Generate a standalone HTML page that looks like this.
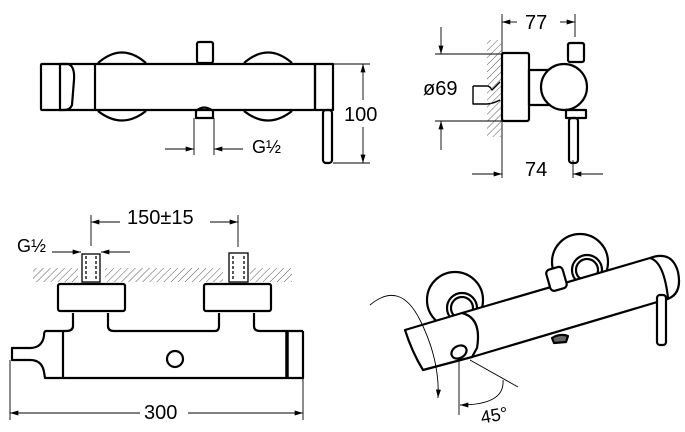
<!DOCTYPE html>
<html><head><style>body{margin:0;background:#fff}svg{display:block}text{font-family:"Liberation Sans","DejaVu Sans",sans-serif;fill:#000}</style></head><body>
<svg width="685" height="432" viewBox="0 0 685 432" xmlns="http://www.w3.org/2000/svg">
<defs>
<pattern id="h" width="5" height="5" patternUnits="userSpaceOnUse" patternTransform="rotate(45)"><line x1="0" y1="0" x2="0" y2="5" stroke="#555" stroke-width="1"/></pattern>
<marker id="a" viewBox="0 0 10 6" refX="10" refY="3" markerWidth="9" markerHeight="5" orient="auto-start-reverse" markerUnits="userSpaceOnUse"><path d="M0,0 L10,3 L0,6z" fill="#000"/></marker>
</defs>
<g fill="none" stroke="#000" stroke-width="2.2" stroke-linejoin="round">
<path d="M98,63 Q122,42 146,63 M244,63 Q268,42 292,63"/>
<path d="M98,111 Q122,130 146,111 M244,111 Q268,130 292,111"/>
<rect x="197" y="42" width="16" height="21" rx="2"/>
<path d="M196,118 L196,111 Q204,104 213,111 L213,118 Z"/>
<rect x="41" y="64" width="274" height="46" rx="1"/>
<path d="M60,64 L68,64 Q75,66 74,80 L72,105 Q70,110 64,110 L60,110 Z"/>
<line x1="95" y1="64" x2="95" y2="110"/>
<rect x="315" y="64" width="18" height="46"/>
<rect x="323" y="110" width="9" height="53" rx="3"/>
<rect x="529" y="70" width="28" height="35"/>
<circle cx="564" cy="87" r="23" fill="#fff"/>
<rect x="502" y="53" width="27" height="68" rx="2"/>
<rect x="568" y="43" width="16" height="19" rx="2"/>
<rect x="566" y="110" width="20" height="8"/>
<rect x="569" y="118" width="9" height="45" rx="3"/>
<path d="M473,86 L487,86 Q490,86 492,90 L500,82 M473,86 L473,104 L487,104 Q492,104 500,100" stroke-width="1.4"/>
<rect x="58" y="284" width="67" height="27" rx="2"/>
<rect x="204" y="284" width="67" height="27" rx="2"/>
<path d="M73,313 L73,326 Q73,331 66,331 L63,331 M108,313 L108,326 Q108,331 114,331 L215,331 Q219,331 219,326 L219,313 M254,313 L254,326 Q254,331 260,331 L303,331"/>
<path d="M63,331 L63,378 L303,378 L303,331"/>
<path d="M63,331 L46,331 Q44,331 44,336 Q42,348 30,348 L12,348 L12,360 L30,360 Q42,360 44,372 L45,378 L63,378"/>
<line x1="287" y1="331" x2="287" y2="378" stroke-width="3.5"/>
<circle cx="175" cy="359" r="8"/>
<circle cx="455" cy="300" r="28" fill="#fff"/>
<circle cx="580" cy="262" r="28" fill="#fff"/>
<circle cx="462" cy="308" r="15" fill="#fff"/>
<circle cx="462" cy="308" r="11"/>
<circle cx="587" cy="270" r="15" fill="#fff"/>
<circle cx="587" cy="270" r="11"/>
</g>
<g fill="#fff" stroke="#000" stroke-width="2.2" stroke-linejoin="round">
<path d="M462,313 L650,258 Q672,250 678,272 Q683,296 664,300 L472,357 Z"/>
<path d="M650,258 Q664,262 668,298" fill="none"/>
<rect x="548" y="268" width="17" height="22" rx="4" transform="rotate(-16 556 279)"/>
<rect x="657" y="295" width="9" height="50" rx="3"/>
<path d="M405,330 L462,313 Q482,318 477,348 L472,357 L423,370 Q412,352 405,330 Z"/>
<ellipse cx="459" cy="352" rx="8" ry="6" transform="rotate(-30 459 352)"/>
<path d="M552,338 Q560,333 568,336 L566,342 L554,343 Z" fill="#666"/>
</g>
<g fill="url(#h)" stroke="none">
<rect x="487" y="40" width="14" height="97"/>
<rect x="33" y="268" width="45" height="14"/><rect x="105" y="268" width="118" height="14"/><rect x="250" y="268" width="42" height="14"/>
</g>
<g fill="#fff" stroke="#000" stroke-width="1.3">
<rect x="82" y="254" width="18" height="28"/><rect x="229" y="253" width="19" height="29"/>
<line x1="86" y1="256" x2="86" y2="280" stroke-dasharray="3,2"/><line x1="96" y1="256" x2="96" y2="280" stroke-dasharray="3,2"/>
<line x1="233" y1="256" x2="233" y2="280" stroke-dasharray="3,2"/><line x1="244" y1="256" x2="244" y2="280" stroke-dasharray="3,2"/>
</g>
<g fill="none" stroke="#000" stroke-width="0.9">
<line x1="194" y1="118" x2="194" y2="155"/><line x1="214" y1="118" x2="214" y2="155"/>
<line x1="165" y1="149" x2="194" y2="149" marker-end="url(#a)"/><line x1="243" y1="149" x2="214" y2="149" marker-end="url(#a)"/>
<line x1="333" y1="64" x2="370" y2="64"/><line x1="333" y1="163" x2="370" y2="163"/>
<line x1="363" y1="100" x2="363" y2="64" marker-end="url(#a)"/><line x1="363" y1="127" x2="363" y2="163" marker-end="url(#a)"/>
<line x1="502" y1="14" x2="502" y2="178"/><line x1="575" y1="14" x2="575" y2="37"/>
<line x1="517" y1="22" x2="502" y2="22" marker-end="url(#a)"/><line x1="560" y1="22" x2="575" y2="22" marker-end="url(#a)"/>
<line x1="435" y1="54" x2="502" y2="54"/><line x1="435" y1="121" x2="502" y2="121"/>
<line x1="441" y1="27" x2="441" y2="54" marker-end="url(#a)"/><line x1="441" y1="150" x2="441" y2="121" marker-end="url(#a)"/>
<line x1="472" y1="174" x2="502" y2="174" marker-end="url(#a)"/><line x1="603" y1="174" x2="573" y2="174" marker-end="url(#a)"/>
<line x1="573" y1="160" x2="573" y2="178"/>
<line x1="91" y1="215" x2="91" y2="246"/><line x1="238" y1="215" x2="238" y2="247"/>
<line x1="120" y1="222" x2="91" y2="222" marker-end="url(#a)"/><line x1="210" y1="222" x2="238" y2="222" marker-end="url(#a)"/>
<line x1="52" y1="252" x2="81" y2="252" marker-end="url(#a)"/><line x1="130" y1="252" x2="101" y2="252" marker-end="url(#a)"/>
<line x1="10" y1="360" x2="10" y2="420"/><line x1="303" y1="378" x2="303" y2="420"/>
<line x1="140" y1="413" x2="10" y2="413" marker-end="url(#a)"/><line x1="188" y1="413" x2="303" y2="413" marker-end="url(#a)"/>
<path d="M370,305 Q400,280 420,320 Q440,360 438,398" marker-end="url(#a)"/>
<line x1="459" y1="360" x2="459" y2="415"/><line x1="470" y1="360" x2="518" y2="387"/>
<path d="M503,380 Q505,405 460,405" marker-end="url(#a)"/>
</g>
<g font-size="20">
<text x="252" y="153" font-size="18">G½</text>
<text x="344" y="121">100</text>
<text x="525" y="29">77</text>
<text x="423" y="95">ø69</text>
<text x="525" y="176">74</text>
<text x="127" y="224">150±15</text>
<text x="17" y="252" font-size="18">G½</text>
<text x="144" y="419">300</text>
<text x="480" y="422" font-size="18" transform="rotate(-10 490 412)">45°</text>
</g>
</svg>
</body></html>
